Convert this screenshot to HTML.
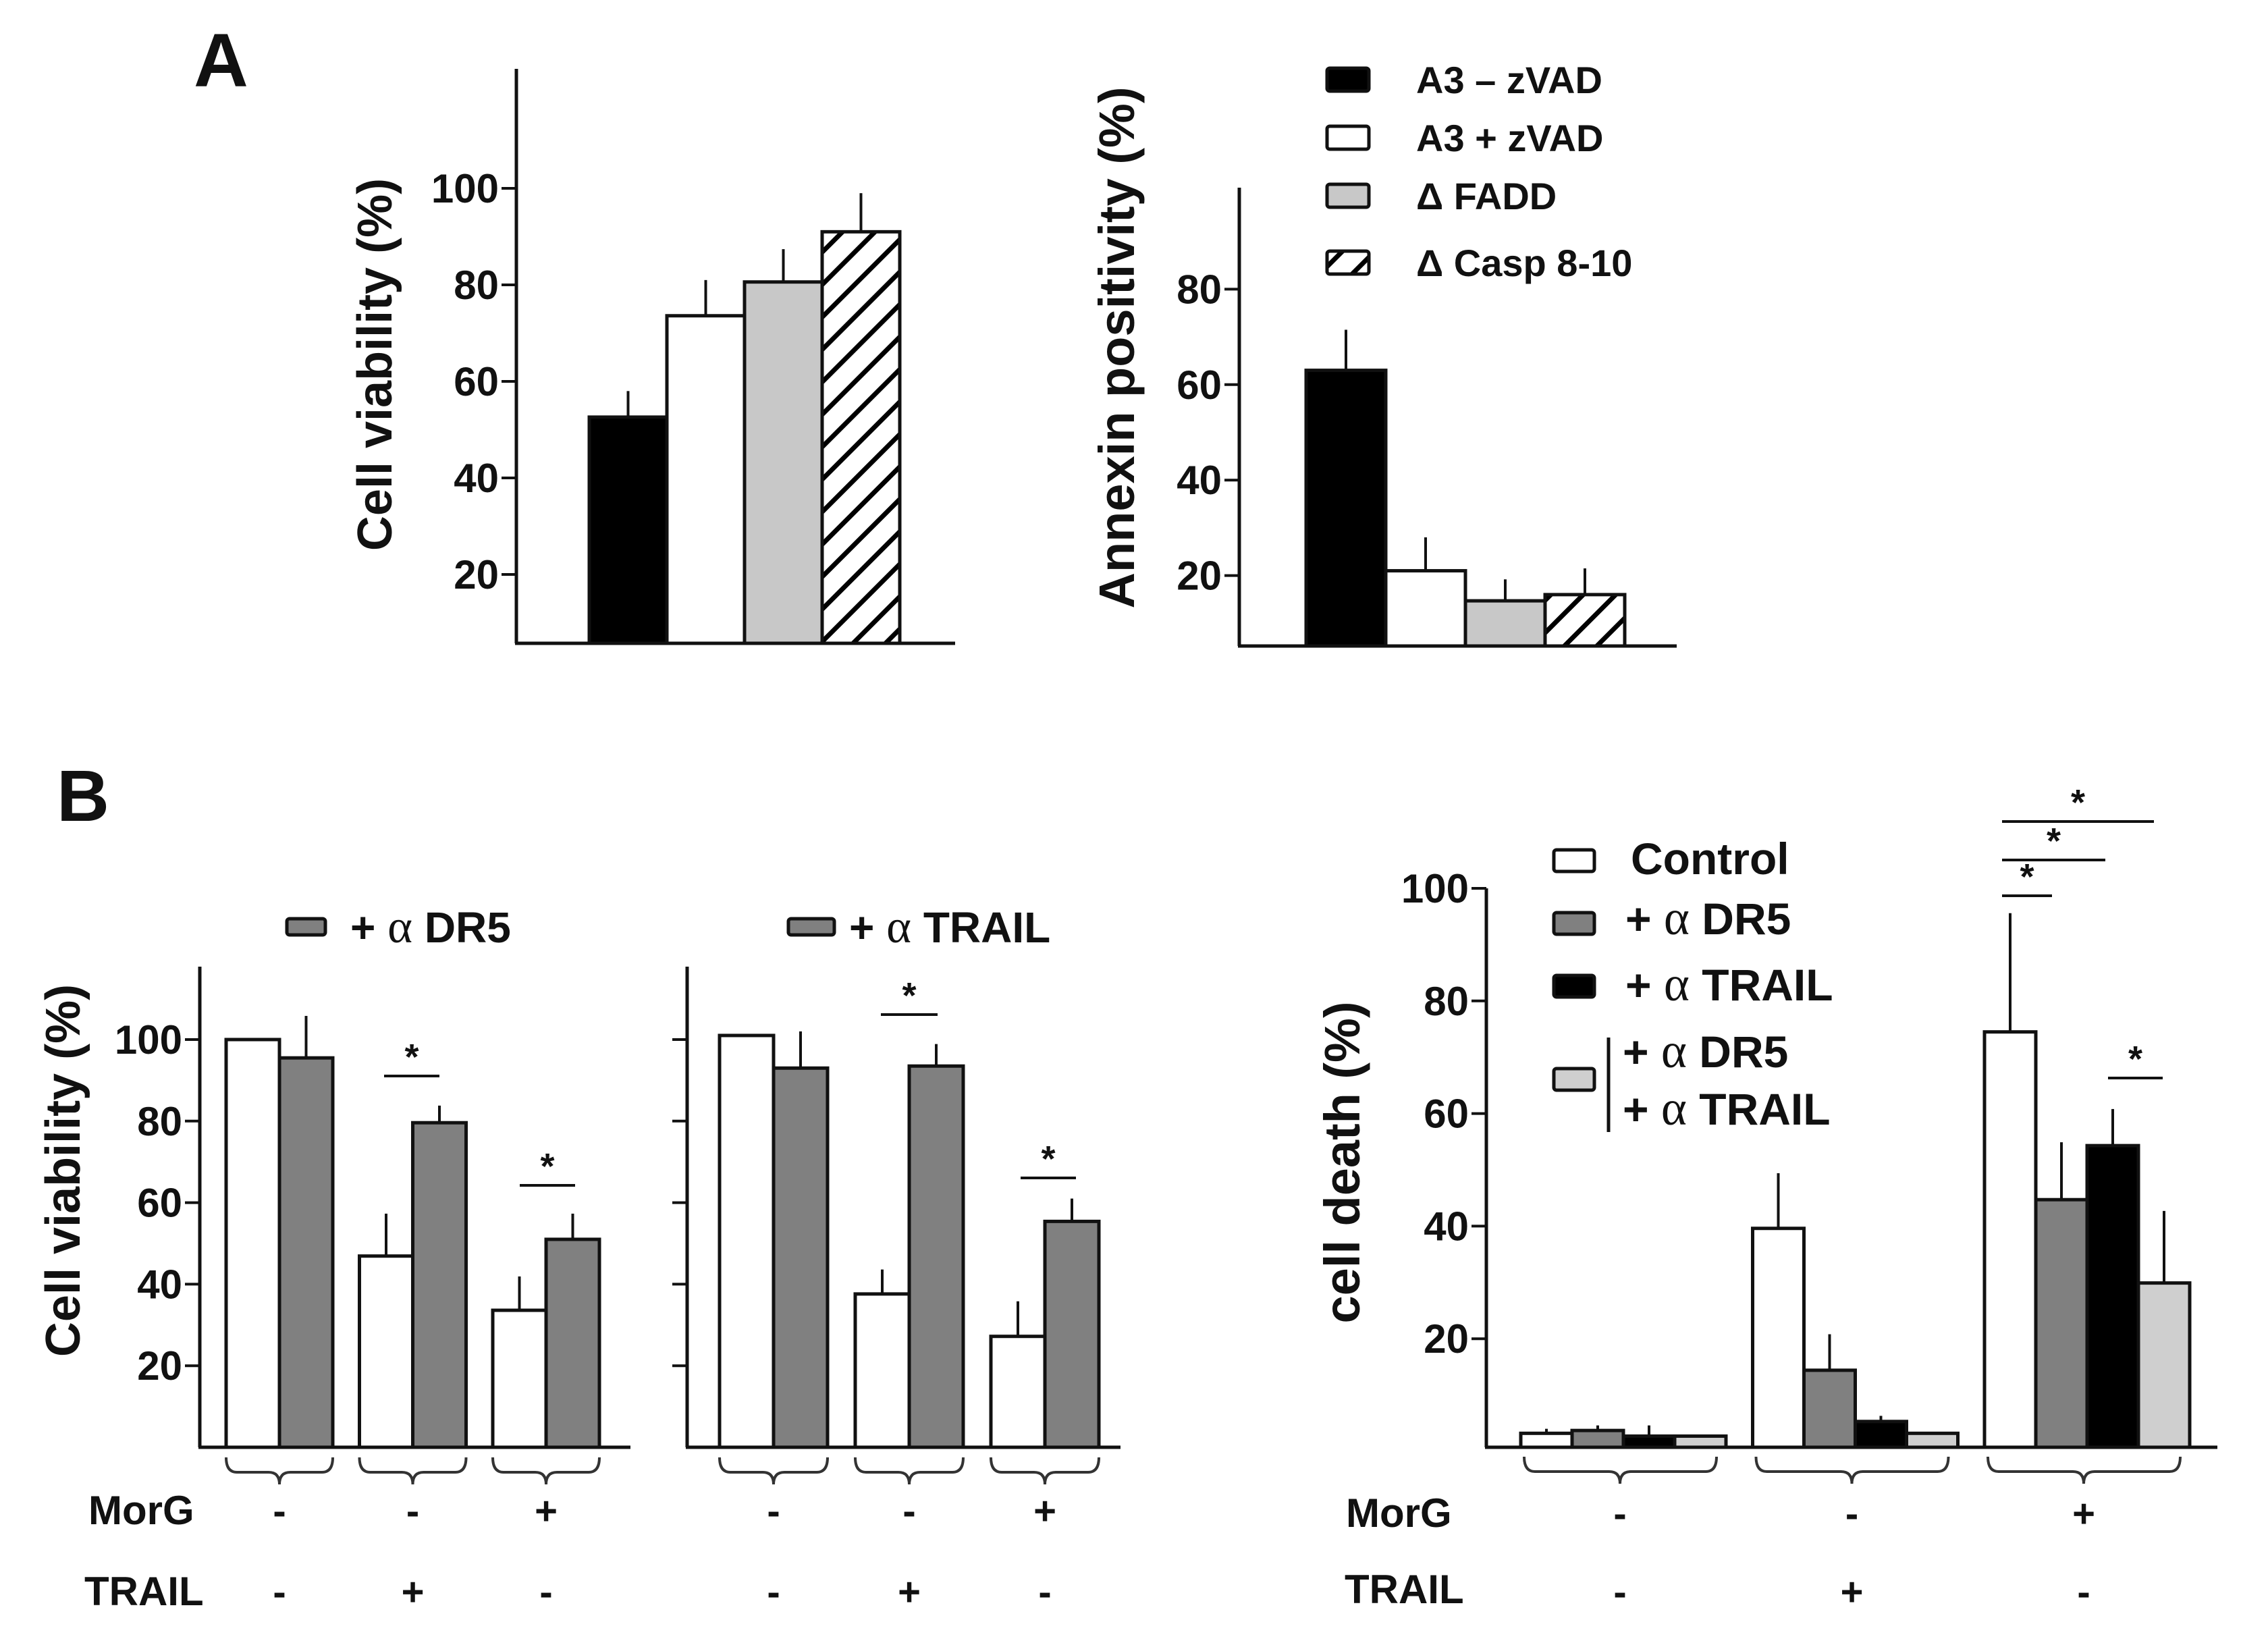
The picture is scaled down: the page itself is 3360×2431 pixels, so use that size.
<!DOCTYPE html>
<html><head><meta charset="utf-8">
<style>
html,body{margin:0;padding:0;background:#fff;}
svg{display:block;}
text{font-family:"Liberation Sans",Arial,sans-serif;font-weight:bold;fill:#111;}
.greek{font-family:"Liberation Serif",serif;font-weight:normal;}
</style></head>
<body>
<svg id="fig" width="3360" height="2431" viewBox="0 0 3360 2431" xmlns="http://www.w3.org/2000/svg">
<defs>
<pattern id="hatch" patternUnits="userSpaceOnUse" width="34" height="34" patternTransform="rotate(45)">
<rect width="34" height="34" fill="#fff"/>
<rect x="0" y="0" width="7" height="34" fill="#000"/>
</pattern>
</defs>
<text x="287" y="128" font-size="112">A</text>
<text x="84" y="1216" font-size="108">B</text>
<g id="layer"></g>
</svg>
<script>
// ===== Panel A1: cell viability =====
const a1Categories = ["A3 – zVAD","A3 + zVAD","Δ FADD","Δ Casp 8-10"];
const a1Values = [52.6, 73.6, 80.6, 91];
const a1Err = [5.4, 7.4, 6.8, 8];
const a1Ticks = [20, 40, 60, 80, 100];
// ===== Panel A2: annexin positivity =====
const a2Values = [63, 21, 14.7, 16];
const a2Err = [8.5, 7, 4.5, 5.5];
const a2Ticks = [20, 40, 60, 80];
// ===== Panel B1: + alpha DR5 =====
const bGroups = ["MorG- TRAIL-", "MorG- TRAIL+", "MorG+ TRAIL-"];
const b1Control = [100, 46.9, 33.6];
const b1ControlErr = [0, 10.4, 8.3];
const b1Anti = [95.5, 79.6, 51];
const b1AntiErr = [10.3, 4.2, 6.3];
const bTicks = [20, 40, 60, 80, 100];
// ===== Panel B2: + alpha TRAIL =====
const b2Control = [101, 37.6, 27.2];
const b2ControlErr = [0, 6, 8.6];
const b2Anti = [93, 93.5, 55.4];
const b2AntiErr = [9, 5.4, 5.6];
// ===== Panel B3: cell death =====
const b3Control = [3.2, 39.6, 74.5];
const b3ControlErr = [0.8, 9.8, 21.1];
const b3DR5 = [3.7, 14.4, 44.7];
const b3DR5Err = [0.9, 6.4, 10.2];
const b3TRAIL = [2.7, 5.3, 54.3];
const b3TRAILErr = [1.9, 1, 6.5];
const b3Both = [2.7, 3.2, 29.9];
const b3BothErr = [0, 0, 12.8];
const b3Ticks = [20, 40, 60, 80, 100];
const morgSigns = ["-", "-", "+"];
const trailSigns = ["-", "+", "-"];

const NS = "http://www.w3.org/2000/svg";
const layer = document.getElementById("layer");
function mk(tag, attrs, parent) {
  const e = document.createElementNS(NS, tag);
  for (const k in attrs) e.setAttribute(k, attrs[k]);
  (parent || layer).appendChild(e);
  return e;
}
function line(x1,y1,x2,y2,w){ return mk("line",{x1:x1,y1:y1,x2:x2,y2:y2,stroke:"#111","stroke-width":w||4}); }

const yA1 = v => 994 - v * 7.15;
const yA2 = v => 994 - v * 7.07;
const yB = v => 2144 - v * 6.04;
const yB3 = v => 2150 - v * 8.34;

function bar(x, w, v, err, yf, base, fill, name) {
  const top = yf(v);
  if (err > 0) {
    const e = line(x + w/2, yf(v + err), x + w/2, top, 4);
    
    
  }
  const r = mk("rect",{x:x, y:top, width:w, height:Math.max(0, base - top), fill:fill, stroke:"#111", "stroke-width":5});
  
  
}
function yaxis(x, top, base, x2, ticks, yf, labels, name) {
  const a = line(x, top, x, base, 5);
  
  
  const b = line(x - 2, base, x2, base, 5);
  
  
  ticks.forEach(t => {
    line(x - 22, yf(t), x, yf(t), 4);
    if (labels) {
      const tx = mk("text",{x:x - 26, y:yf(t) + 21, "font-size":60, "text-anchor":"end"});
      tx.textContent = t;
      
      
    }
  });
}
function ytitle(cx, cy, txt, size, name) {
  const t = mk("text",{x:0, y:0, "font-size":size, "text-anchor":"middle", transform:`translate(${cx},${cy}) rotate(-90)`});
  t.textContent = txt;
  
  
}
function brace(x1, x2, tip, y0) {
  const y1 = y0 + 22, y2 = y0 + 40;
  const p = mk("path",{d:`M${x1},${y0} Q${x1},${y1} ${x1+16},${y1} L${tip-16},${y1} Q${tip},${y1} ${tip},${y2} Q${tip},${y1} ${tip+16},${y1} L${x2-16},${y1} Q${x2},${y1} ${x2},${y0}`, fill:"none", stroke:"#333", "stroke-width":4});
  
  
}
function sig(x1, x2, y) {
  const l = line(x1, y, x2, y, 4);
  
  
  const s = mk("text",{x:(x1+x2)/2, y:y - 10, "font-size":54, "text-anchor":"middle"});
  s.textContent = "*";
  
  
}
function txt(x, y, s, size, name, anchor) {
  const t = mk("text",{x:x, y:y, "font-size":size, "text-anchor":anchor || "start"});
  t.textContent = s;
  
  
  return t;
}
function alphaLabel(x, y, word, size, name) {
  const t = mk("text",{x:x, y:y, "font-size":size});
  
  
  const a = mk("tspan",{}, t); a.textContent = "+ ";
  const b = mk("tspan",{class:"greek", "font-size":size * 1.1}, t); b.textContent = "α";
  const c = mk("tspan",{}, t); c.textContent = " " + word;
}
function swatch(x, y, w, h, fill, name) {
  const r = mk("rect",{x:x, y:y, width:w, height:h, rx:4, fill:fill, stroke:"#111", "stroke-width":5});
  
  
}

const fillsA = ["#000", "#fff", "#c8c8c8", "url(#hatch)"];

// ---- A1 ----
yaxis(765, 102, 953, 1415, a1Ticks, yA1, true, "a1");
a1Values.forEach((v, i) => bar(873 + i * 115, 115, v, a1Err[i], yA1, 953, fillsA[i], "a1-bar-" + (i + 1)));
ytitle(580, 540, "Cell viability (%)", 72, "a1-y-axis-title");

// ---- A2 ----
yaxis(1836, 278, 957, 2484, a2Ticks, yA2, true, "a2");
a2Values.forEach((v, i) => bar(1935 + i * 118, 118, v, a2Err[i], yA2, 957, fillsA[i], "a2-bar-" + (i + 1)));
ytitle(1680, 515, "Annexin positivity (%)", 74, "a2-y-axis-title");
const legY = [118, 204, 290, 389];
a1Categories.forEach((c, i) => {
  swatch(1966, legY[i] - 17, 62, 34, fillsA[i], "legend-swatch-a-" + (i + 1));
  txt(2098, legY[i] + 20, c, 56, "legend-entry-a-" + (i + 1));
});

// ---- B1 ----
yaxis(296, 1432, 2144, 934, bTicks, yB, true, "b1");
b1Control.forEach((v, g) => bar(335 + g * 197.5, 79, v, b1ControlErr[g], yB, 2144, "#fff", "b1-control-bar-" + (g + 1)));
b1Anti.forEach((v, g) => bar(414 + g * 197.5, 79, v, b1AntiErr[g], yB, 2144, "#808080", "b1-anti-dr5-bar-" + (g + 1)));
ytitle(118, 1734, "Cell viability (%)", 72, "b1-y-axis-title");
swatch(425, 1361, 57, 24, "#808080", "b1-legend-swatch");
alphaLabel(519, 1396, "DR5", 64, "b1-legend-label");
sig(569, 651, 1594);
sig(770, 852, 1756);

// ---- B2 ----
yaxis(1018, 1432, 2144, 1660, bTicks, yB, false, "b2");
b2Control.forEach((v, g) => bar(1066 + g * 201, 80, v, b2ControlErr[g], yB, 2144, "#fff", "b2-control-bar-" + (g + 1)));
b2Anti.forEach((v, g) => bar(1146 + g * 201, 80, v, b2AntiErr[g], yB, 2144, "#808080", "b2-anti-trail-bar-" + (g + 1)));
swatch(1168, 1361, 68, 24, "#808080", "b2-legend-swatch");
alphaLabel(1258, 1396, "TRAIL", 64, "b2-legend-label");
sig(1305, 1389, 1503);
sig(1512, 1594, 1745);

[335, 1066].forEach((start, p) => {
  const step = p === 0 ? 197.5 : 201, w = p === 0 ? 158 : 160;
  for (let g = 0; g < 3; g++) {
    const x1 = start + g * step;
    brace(x1, x1 + w, x1 + w / 2, 2159);
    txt(x1 + w / 2, 2258, morgSigns[g], 58, "morg-sign", "middle");
    txt(x1 + w / 2, 2378, trailSigns[g], 58, "trail-sign", "middle");
  }
});
txt(131, 2258, "MorG", 60, "b1-morg-row-label");
txt(125, 2378, "TRAIL", 60, "b1-trail-row-label");

// ---- B3 ----
yaxis(2202, 1316, 2144, 3285, b3Ticks, yB3, true, "b3");
const b3Series = [b3Control, b3DR5, b3TRAIL, b3Both];
const b3ErrSeries = [b3ControlErr, b3DR5Err, b3TRAILErr, b3BothErr];
const b3Fills = ["#fff", "#808080", "#000", "#cfcfcf"];
const b3Names = ["control", "anti-dr5", "anti-trail", "anti-both"];
b3Series.forEach((s, k) => s.forEach((v, g) =>
  bar(2253 + g * 343.5 + k * 76, 76, v, b3ErrSeries[k][g], yB3, 2144, b3Fills[k], "b3-" + b3Names[k] + "-bar-" + (g + 1))));
ytitle(2014, 1722, "cell death (%)", 74, "b3-y-axis-title");
for (let g = 0; g < 3; g++) {
  const x1 = 2258 + g * 343.5;
  brace(x1, x1 + 285, x1 + 142, 2158);
  txt(x1 + 142, 2262, morgSigns[g], 58, "b3-morg-sign", "middle");
  txt(x1 + 142, 2378, trailSigns[g], 58, "b3-trail-sign", "middle");
}
txt(1994, 2262, "MorG", 60, "b3-morg-row-label");
txt(1992, 2375, "TRAIL", 60, "b3-trail-row-label");
swatch(2302, 1259, 60, 32, "#fff", "b3-legend-swatch-control");
txt(2416, 1295, "Control", 66, "b3-legend-control");
swatch(2302, 1352, 60, 32, "#808080", "b3-legend-swatch-dr5");
alphaLabel(2408, 1384, "DR5", 66, "b3-legend-dr5");
swatch(2302, 1445, 60, 32, "#000", "b3-legend-swatch-trail");
alphaLabel(2408, 1482, "TRAIL", 66, "b3-legend-trail");
swatch(2302, 1583, 60, 32, "#cfcfcf", "b3-legend-swatch-both");
const vb = line(2383, 1537, 2383, 1677, 5);


alphaLabel(2404, 1581, "DR5", 66, "b3-legend-both-dr5");
alphaLabel(2404, 1666, "TRAIL", 66, "b3-legend-both-trail");
sig(2966, 3040, 1327);
sig(2966, 3119, 1274);
sig(2966, 3191, 1217);
sig(3123, 3204, 1597);
</script>
</body></html>
